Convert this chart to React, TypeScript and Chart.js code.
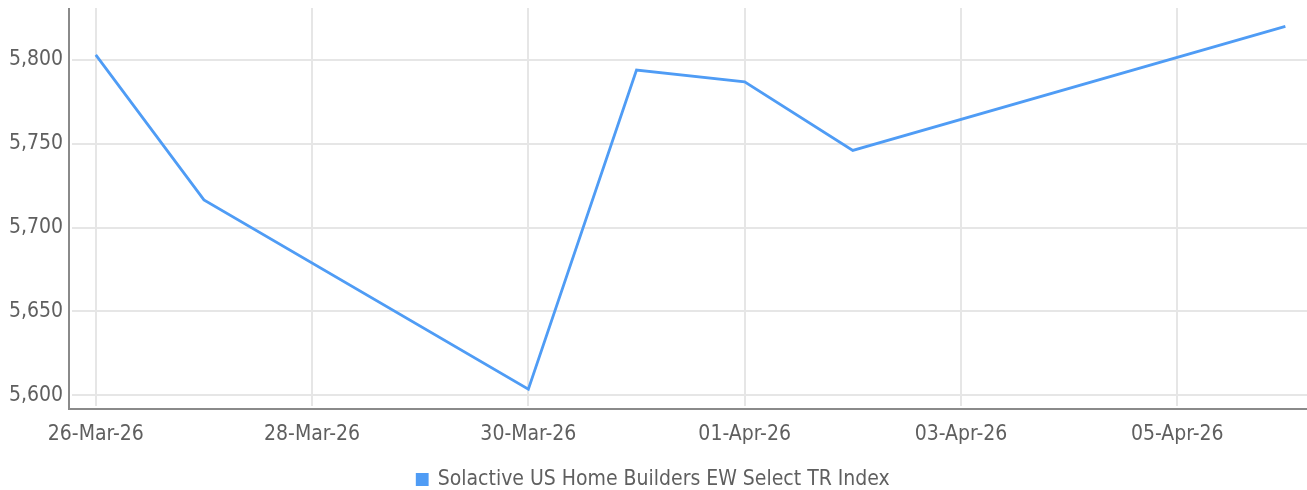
import React, { useEffect, useRef } from "react";
import { Chart, registerables } from "chart.js";

Chart.register(...registerables);

const dates = ["2026-03-26", "2026-03-27", "2026-03-30", "2026-03-31", "2026-04-01", "2026-04-02", "2026-04-06"];
const values = [5803, 5716.5, 5603.5, 5794, 5787, 5746, 5820];
const seriesName = "Solactive US Home Builders EW Select TR Index";
const xTickDays = [0, 2, 4, 6, 8, 10];
const yTicks = [5600, 5650, 5700, 5750, 5800];
const months = ["Jan", "Feb", "Mar", "Apr", "May", "Jun", "Jul", "Aug", "Sep", "Oct", "Nov", "Dec"];

const DAY = 86400000;
const base = Date.UTC(2026, 2, 26);
const toDay = (s: string) => {
  const [y, m, d] = s.split("-").map(Number);
  return Math.round((Date.UTC(y, m - 1, d) - base) / DAY);
};
const fmtDay = (n: number) => {
  const dt = new Date(base + n * DAY);
  const dd = String(dt.getUTCDate()).padStart(2, "0");
  return `${dd}-${months[dt.getUTCMonth()]}-${String(dt.getUTCFullYear()).slice(2)}`;
};

const FONT = "'Liberation Sans Narrow', 'DejaVu Sans Condensed', 'Roboto', sans-serif";
const TEXT = "#5f5f5f";
const GRID = "#e6e6e6";
const BLUE = "#4f9cf5";

const axisLines = {
  id: "axisLines",
  afterDraw(chart: any) {
    const { ctx, chartArea } = chart;
    ctx.save();
    ctx.strokeStyle = "#8a8a8a";
    ctx.lineWidth = 2;
    ctx.beginPath();
    ctx.moveTo(chartArea.left - 3, chartArea.top);
    ctx.lineTo(chartArea.left - 3, chartArea.bottom + 3);
    ctx.lineTo(chartArea.right, chartArea.bottom + 3);
    ctx.stroke();
    ctx.restore();
  },
};

export default function App() {
  const ref = useRef<HTMLCanvasElement>(null);
  useEffect(() => {
    const chart = new Chart(ref.current!, {
      type: "line",
      data: {
        datasets: [
          {
            label: seriesName,
            data: dates.map((d, i) => ({ x: toDay(d), y: values[i] })),
            borderColor: BLUE,
            backgroundColor: BLUE,
            borderWidth: 2.8,
            pointRadius: 0,
            tension: 0,
          },
        ],
      },
      options: {
        animation: false,
        responsive: false,
        maintainAspectRatio: false,
        layout: { padding: { top: 8, right: 0, left: 0, bottom: -10 } },
        plugins: {
          tooltip: { enabled: false },
          legend: {
            position: "bottom",
            labels: {
              font: { family: FONT, size: 21 },
              color: TEXT,
              boxWidth: 10,
              boxHeight: 10,
              padding: 0,
            },
          },
        },
        scales: {
          x: {
            type: "linear",
            min: -0.22,
            max: 11.2,
            afterBuildTicks: (s: any) => {
              s.ticks = xTickDays.map((v) => ({ value: v }));
            },
            afterFit: (s: any) => {
              s.height = 63;
              s.paddingLeft = 0;
              s.paddingRight = 0;
            },
            ticks: {
              callback: (v: any) => fmtDay(Number(v)),
              font: { family: FONT, size: 21 },
              color: TEXT,
              padding: 16,
              maxRotation: 0,
              autoSkip: false,
            },
            grid: { color: GRID, lineWidth: 2, drawTicks: false },
            border: { display: false },
          },
          y: {
            min: 5593.5,
            max: 5831,
            afterBuildTicks: (s: any) => {
              s.ticks = yTicks.map((v) => ({ value: v }));
            },
            afterFit: (s: any) => {
              s.width = 72;
              s.paddingTop = 0;
              s.paddingBottom = 0;
            },
            ticks: {
              callback: (v: any) => Number(v).toLocaleString("en-US"),
              font: { family: FONT, size: 21 },
              color: TEXT,
              padding: 9,
            },
            grid: { color: GRID, lineWidth: 2, drawTicks: false },
            border: { display: false },
          },
        },
      },
      plugins: [axisLines],
    });
    return () => chart.destroy();
  }, []);
  return (
    <div style={{ position: "absolute", left: 0, top: 0, width: 1307, height: 490 }}>
      <canvas ref={ref} width={1307} height={490} />
    </div>
  );
}
